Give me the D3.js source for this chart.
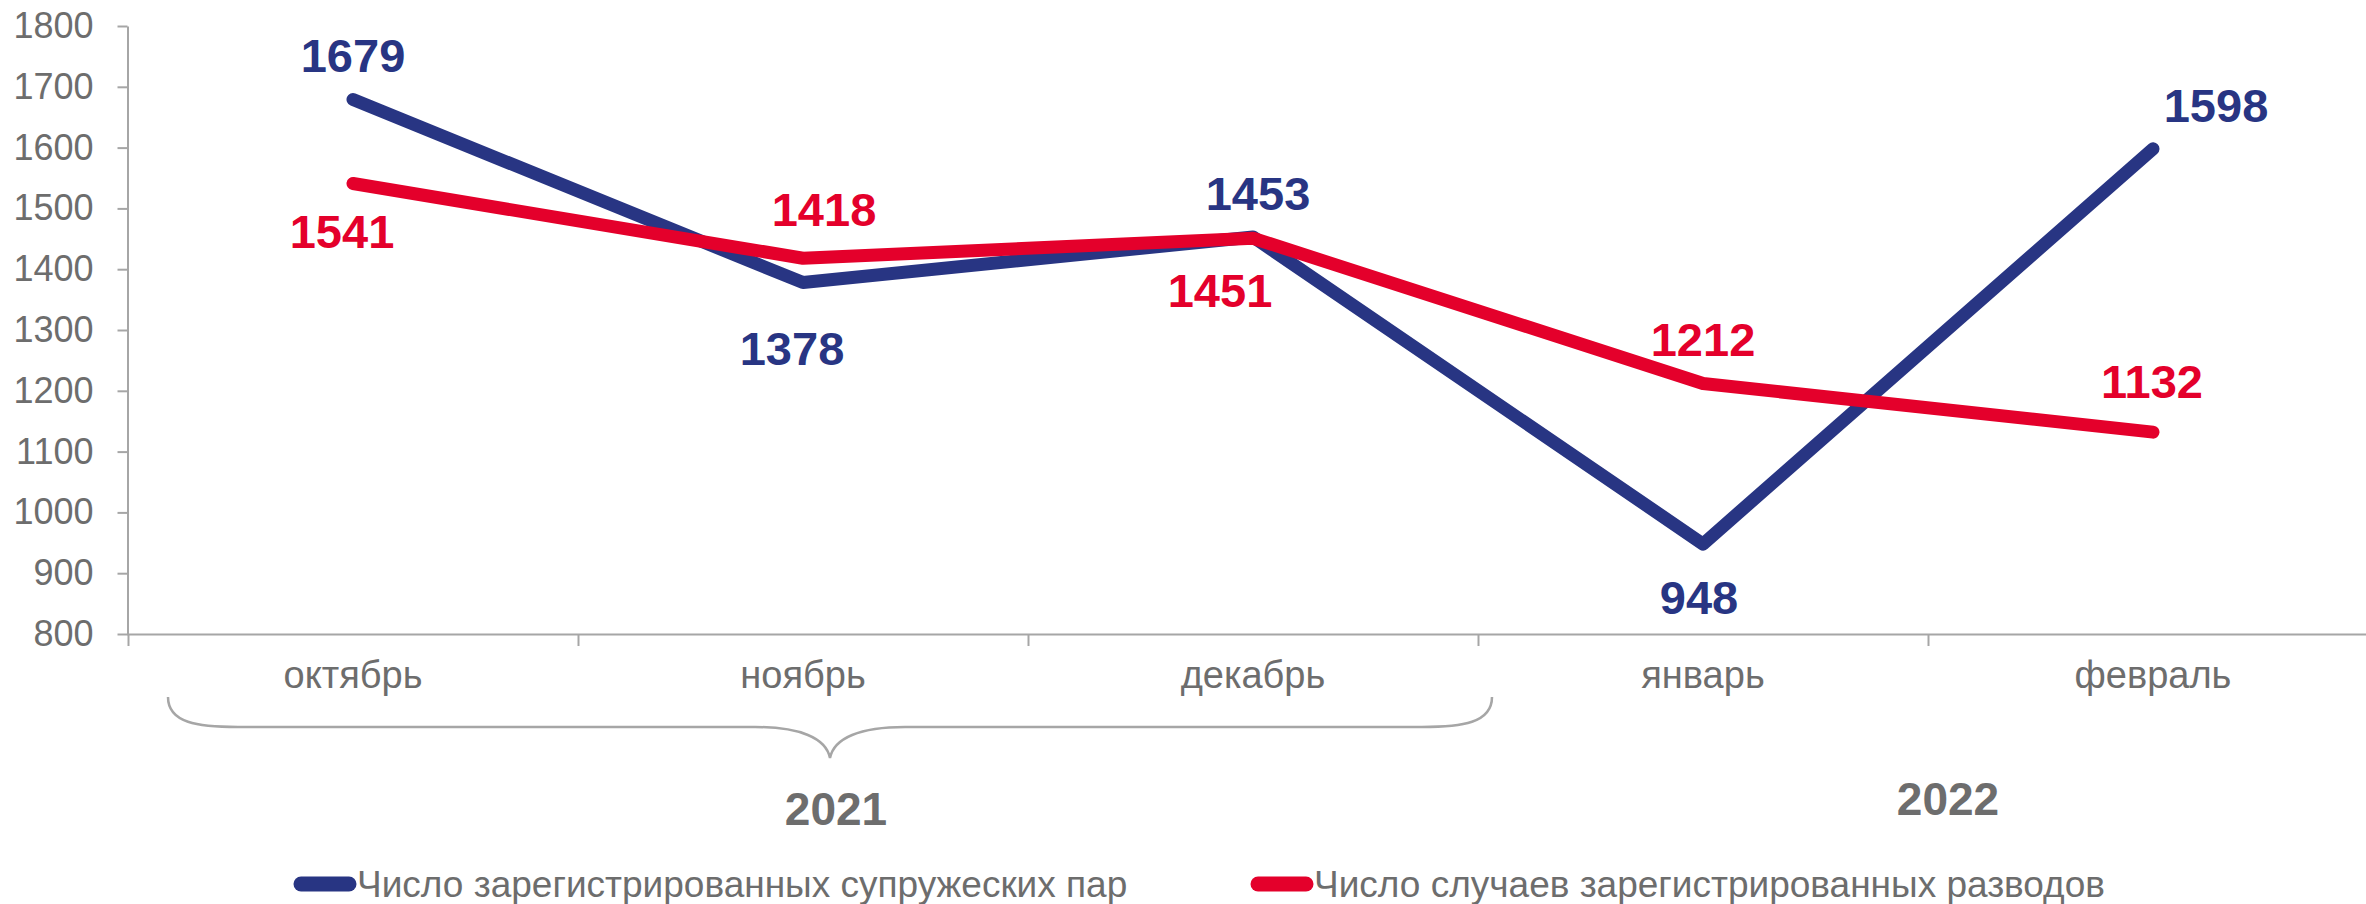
<!DOCTYPE html>
<html>
<head>
<meta charset="utf-8">
<script src="https://cdn.jsdelivr.net/npm/d3@7"></script>
<style>
  html, body { margin: 0; padding: 0; background: #ffffff; }
  svg { display: block; font-family: "Liberation Sans", Arial, sans-serif; }
</style>
</head>
<body>
<svg id="chart" width="2366" height="904"></svg>
<script>
// ---- data ----
const months = ["октябрь", "ноябрь", "декабрь", "январь", "февраль"];
const marriages = [1679, 1378, 1453, 948, 1598];
const divorces = [1541, 1418, 1451, 1212, 1132];
const seriesNames = ["Число зарегистрированных супружеских пар", "Число случаев зарегистрированных разводов"];
const yTicks = [800, 900, 1000, 1100, 1200, 1300, 1400, 1500, 1600, 1700, 1800];
const years = ["2021", "2022"];

// ---- layout (label placement, not data) ----
const marriageLabelOffsets = [[0, -28], [-11, 82], [5, -27], [-4, 70], [63, -27]];
const divorceLabelOffsets = [[-11, 65], [21, -32], [-33, 69], [0, -28], [-1, -34]];

const colors = ["#283583", "#e4002b"];
const gray = "#6d6d6d";
const axisGray = "#a6a6a6";

const svg = d3.select("#chart");

const x = d3.scaleBand().domain(months).range([128, 2378]).padding(0);
const y = d3.scaleLinear().domain([800, 1800]).range([634, 26]);
const cx = m => x(m) + x.bandwidth() / 2;

// y axis
const yAxis = svg.append("g")
  .attr("transform", "translate(127.5,0)")
  .call(d3.axisLeft(y).tickValues(yTicks).tickSize(10).tickSizeOuter(0).tickPadding(24).tickFormat(d3.format("d")));
yAxis.select(".domain").attr("stroke", axisGray).attr("stroke-width", 2);
yAxis.selectAll(".tick line").attr("stroke", axisGray).attr("stroke-width", 2);
yAxis.selectAll(".tick text").attr("fill", gray).attr("font-size", 36).attr("font-family", "Liberation Sans, Arial, sans-serif");

// x axis line
svg.append("line")
  .attr("x1", 127).attr("x2", 2366)
  .attr("y1", y(800) + 0.5).attr("y2", y(800) + 0.5)
  .attr("stroke", axisGray).attr("stroke-width", 2);

// x separator ticks at band boundaries
svg.append("g").selectAll("line")
  .data(months)
  .join("line")
  .attr("x1", d => Math.round(x(d)) + 0.5)
  .attr("x2", d => Math.round(x(d)) + 0.5)
  .attr("y1", y(800))
  .attr("y2", y(800) + 12)
  .attr("stroke", axisGray).attr("stroke-width", 2);

// month labels
svg.append("g").selectAll("text")
  .data(months)
  .join("text")
  .attr("x", d => cx(d))
  .attr("y", 688)
  .attr("text-anchor", "middle")
  .attr("font-size", 38)
  .attr("fill", gray)
  .text(d => d);

// brace over 2021 months
const bL = x(months[0]) + 40, bR = x(months[2]) + x.bandwidth() + 14;
const bMid = (bL + bR) / 2, bTop = 697, bH = 727, bTip = 758;
const brace = d3.path();
brace.moveTo(bL, bTop);
brace.bezierCurveTo(bL, bH - 4, bL + 30, bH, bL + 70, bH);
brace.lineTo(bMid - 75, bH);
brace.bezierCurveTo(bMid - 30, bH, bMid - 4, bTip - 20, bMid, bTip);
brace.bezierCurveTo(bMid + 4, bTip - 20, bMid + 30, bH, bMid + 75, bH);
brace.lineTo(bR - 70, bH);
brace.bezierCurveTo(bR - 30, bH, bR, bH - 4, bR, bTop);
svg.append("path")
  .attr("d", brace.toString())
  .attr("fill", "none")
  .attr("stroke", axisGray)
  .attr("stroke-width", 2.5);

// year labels
svg.append("text").attr("x", bMid + 6).attr("y", 825)
  .attr("text-anchor", "middle").attr("font-size", 46).attr("font-weight", "bold")
  .attr("fill", gray).text(years[0]);
svg.append("text").attr("x", (cx(months[3]) + cx(months[4])) / 2 + 20).attr("y", 815)
  .attr("text-anchor", "middle").attr("font-size", 46).attr("font-weight", "bold")
  .attr("fill", gray).text(years[1]);

// lines
const line = d3.line().x((d, i) => cx(months[i])).y(d => y(d));
const allSeries = [marriages, divorces];
const allOffsets = [marriageLabelOffsets, divorceLabelOffsets];

allSeries.forEach((s, k) => {
  svg.append("path")
    .datum(s)
    .attr("d", line)
    .attr("fill", "none")
    .attr("stroke", colors[k])
    .attr("stroke-width", 13)
    .attr("stroke-linecap", "round")
    .attr("stroke-linejoin", "round");
});

allSeries.forEach((s, k) => {
  svg.append("g").selectAll("text")
    .data(s)
    .join("text")
    .attr("x", (d, i) => cx(months[i]) + allOffsets[k][i][0])
    .attr("y", (d, i) => y(d) + allOffsets[k][i][1])
    .attr("text-anchor", "middle")
    .attr("font-size", 47)
    .attr("font-weight", "bold")
    .attr("fill", colors[k])
    .text(d => d);
});

// legend
const legendX = [293, 1250];
const legend = svg.append("g");
seriesNames.forEach((name, k) => {
  legend.append("line")
    .attr("x1", legendX[k] + 8).attr("x2", legendX[k] + 56)
    .attr("y1", 884).attr("y2", 884)
    .attr("stroke", colors[k]).attr("stroke-width", 15).attr("stroke-linecap", "round");
  legend.append("text")
    .attr("x", legendX[k] + 64).attr("y", 897)
    .attr("font-size", 37)
    .attr("fill", gray)
    .text(name);
});
</script>
</body>
</html>
